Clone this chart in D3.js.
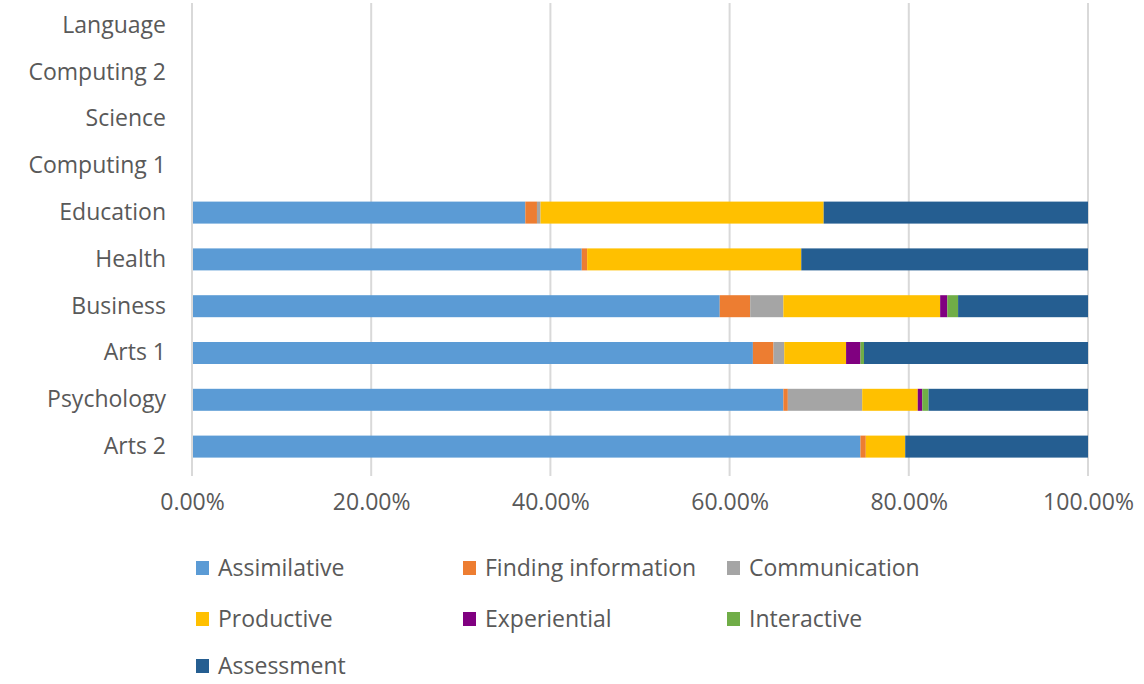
<!DOCTYPE html>
<html>
<head>
<meta charset="utf-8">
<script src="https://cdn.jsdelivr.net/npm/d3@7"></script>
<style>
  body { margin: 0; background: #fff; }
  text { font-family: "Open Sans", Lato, sans-serif; fill: #595959; }
</style>
</head>
<body>
<div id="chart"></div>
<script>
// Categories, top to bottom
var modules = ["Language", "Computing 2", "Science", "Computing 1", "Education",
    "Health", "Business", "Arts 1", "Psychology", "Arts 2"];

var activities = ["Assimilative", "Finding information", "Communication",
    "Productive", "Experiential", "Interactive", "Assessment"];

var colors = ["#5B9BD5", "#ED7D31", "#A5A5A5", "#FFC000", "#800080", "#70AD47", "#255E91"];

// percent values per activity, in the same order as modules
var assimilative = [0, 0, 0, 0, 37.2, 43.5, 58.9, 62.6, 66.0, 74.6];
var findingInfo  = [0, 0, 0, 0, 1.3, 0.6, 3.4, 2.3, 0.5, 0.6];
var communication = [0, 0, 0, 0, 0.4, 0, 3.7, 1.2, 8.3, 0];
var productive   = [0, 0, 0, 0, 31.6, 23.9, 17.5, 6.9, 6.2, 4.4];
var experiential = [0, 0, 0, 0, 0, 0, 0.8, 1.6, 0.5, 0];
var interactive  = [0, 0, 0, 0, 0, 0, 1.2, 0.4, 0.7, 0];
var assessment   = [0, 0, 0, 0, 29.5, 32.0, 14.5, 25.0, 17.8, 20.4];

var tickValues = [0, 0.2, 0.4, 0.6, 0.8, 1.0];

var series = [assimilative, findingInfo, communication, productive, experiential, interactive, assessment];

// build rows for the stack
var rows = modules.map(function (m, i) {
    var row = { module: m };
    activities.forEach(function (a, j) { row[a] = series[j][i] / 100; });
    return row;
});

var width = 1144, height = 684;
var margin = { top: 2, left: 192, right: 56 };
var plotH = 470;

var svg = d3.select("#chart").append("svg")
    .attr("width", width)
    .attr("height", height);

var x = d3.scaleLinear()
    .domain([0, 1])
    .range([margin.left, width - margin.right]);

var y = d3.scaleBand()
    .domain(modules)
    .range([margin.top, plotH])
    .paddingInner(0.53)
    .paddingOuter(0.265);

// gridlines
svg.append("g")
    .selectAll("line")
    .data(tickValues)
    .enter()
    .append("line")
    .attr("x1", function (d) { return x(d); })
    .attr("x2", function (d) { return x(d); })
    .attr("y1", 3)
    .attr("y2", plotH + 6)
    .attr("stroke", "#d9d9d9")
    .attr("stroke-width", 2);

// x axis labels
var xAxis = d3.axisBottom(x)
    .tickValues(tickValues)
    .tickFormat(d3.format(".2%"))
    .tickSize(0)
    .tickPadding(0);

svg.append("g")
    .attr("transform", "translate(0," + 510 + ")")
    .call(xAxis)
    .call(function (g) { g.select(".domain").remove(); })
    .selectAll("text")
    .attr("dy", 0)
    .style("font-size", "23px")
    .style("fill", "#595959");

// y axis labels
var yAxis = d3.axisLeft(y).tickSize(0).tickPadding(26);
svg.append("g")
    .attr("transform", "translate(" + margin.left + ",0)")
    .call(yAxis)
    .call(function (g) { g.select(".domain").remove(); })
    .selectAll("text")
    .style("font-size", "23px")
    .style("fill", "#595959");

// stacked bars
var stack = d3.stack().keys(activities);
var layers = stack(rows);

svg.append("g")
    .selectAll("g")
    .data(layers)
    .enter()
    .append("g")
    .attr("fill", function (d, i) { return colors[i]; })
    .selectAll("rect")
    .data(function (d) { return d; })
    .enter()
    .append("rect")
    .attr("x", function (d) { return x(d[0]); })
    .attr("y", function (d) { return y(d.data.module); })
    .attr("width", function (d) { return x(d[1]) - x(d[0]); })
    .attr("height", y.bandwidth());

// category axis line
svg.append("line")
    .attr("x1", x(0)).attr("x2", x(0))
    .attr("y1", 3).attr("y2", plotH + 6)
    .attr("stroke", "#d9d9d9")
    .attr("stroke-width", 2);

// legend
var legendPos = [
    [196, 568], [463, 568], [727, 568],
    [196, 619], [463, 619], [727, 619],
    [196, 666]
];

var legend = svg.append("g")
    .selectAll("g")
    .data(activities)
    .enter()
    .append("g")
    .attr("transform", function (d, i) {
        return "translate(" + legendPos[i][0] + "," + legendPos[i][1] + ")";
    });

legend.append("rect")
    .attr("x", 0)
    .attr("y", -7)
    .attr("width", 13)
    .attr("height", 14)
    .attr("fill", function (d, i) { return colors[i]; });

legend.append("text")
    .attr("x", 22)
    .attr("dy", "0.35em")
    .style("font-size", "23px")
    .text(function (d) { return d; });
</script>
</body>
</html>
